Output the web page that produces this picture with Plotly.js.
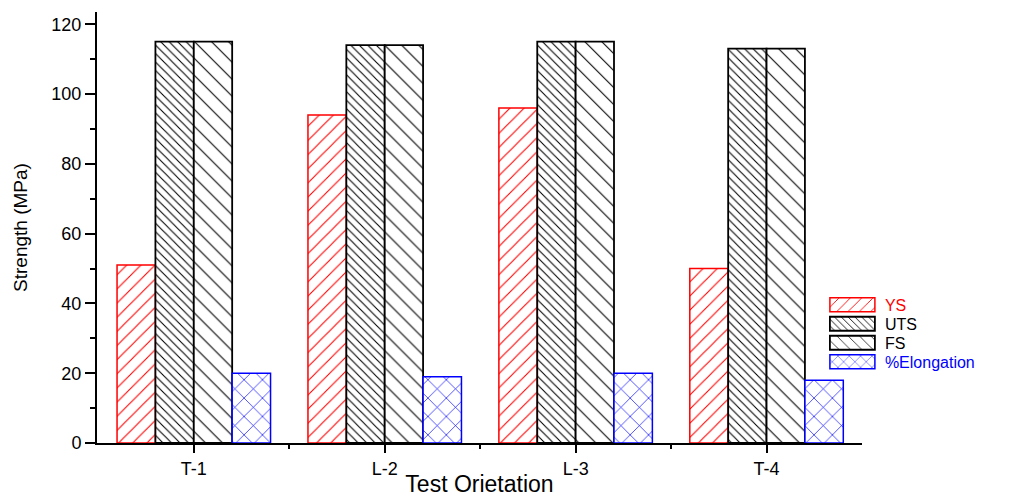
<!DOCTYPE html>
<html><head><meta charset="utf-8">
<script src="https://cdn.plot.ly/plotly-3.0.1.min.js"></script>
<style>html,body{margin:0;padding:0;background:#fff}#c{width:1009px;height:497px}</style>
</head><body><div id="c"></div>
<script>
const categories = ['T-1', 'L-2', 'L-3', 'T-4'];
const ys = [51, 94, 96, 50];
const uts = [115, 114, 115, 113];
const fs = [115, 114, 115, 113];
const elong = [20, 19, 20, 18];
const xpos = categories.map((c, i) => i);

function bar(name, vals, color, shape, size, sol, lw) {
  return {
    type: 'bar', x: xpos, y: vals, name: name,
    marker: {color: '#fff', line: {color: color, width: lw},
      pattern: {shape: shape, fgcolor: color, bgcolor: '#fff', size: size, solidity: sol, fillmode: 'replace'}},
    hoverinfo: 'skip'
  };
}
const data = [
  bar('<span style="color:#ff0000">YS</span>', ys, '#ff0000', '/', 10, 0.11, 1.5),
  bar('UTS', uts, '#000000', '\\', 6, 0.18, 1.8),
  bar('FS', fs, '#000000', '\\', 12, 0.09, 1.8),
  bar('<span style="color:#0000ff">%Elongation</span>', elong, '#0000ff', 'x', 13, 0.1, 1.5)
];
const layout = {
  width: 1009, height: 497,
  margin: {l: 97, r: 147, t: 12, b: 54},
  barmode: 'group', bargap: 0.196, bargroupgap: 0,
  paper_bgcolor: '#fff', plot_bgcolor: '#fff',
  font: {family: 'Liberation Sans, Arial, sans-serif', color: '#000'},
  showlegend: true,
  legend: {x: 0.9515, xanchor: 'left', y: 0.36, yanchor: 'top', bgcolor: 'rgba(0,0,0,0)',
    font: {size: 16}, tracegroupgap: 0, itemwidth: 50, traceorder: 'normal'},
  xaxis: {
    range: [-0.507, 3.5], tickmode: 'array', tickvals: xpos, ticktext: categories,
    showline: true, linecolor: '#000', linewidth: 2, showgrid: false, zeroline: false,
    ticks: 'outside', ticklen: 8, tickwidth: 2, tickcolor: '#000',
    tickfont: {size: 18},
    minor: {tickmode: 'array', tickvals: [0.5, 1.5, 2.5], ticks: 'outside', ticklen: 4, tickwidth: 2, tickcolor: '#000'},
    title: {text: 'Test Orietation', font: {size: 23}, standoff: 3}
  },
  yaxis: {
    range: [0, 123.5], dtick: 20, tick0: 0,
    showline: true, linecolor: '#000', linewidth: 2, showgrid: false, zeroline: false,
    ticks: 'outside', ticklen: 10, tickwidth: 2, tickcolor: '#000',
    tickfont: {size: 18},
    minor: {dtick: 10, ticks: 'outside', ticklen: 5, tickwidth: 2, tickcolor: '#000'},
    title: {text: 'Strength (MPa)', font: {size: 19}, standoff: 19}
  }
};
Plotly.newPlot('c', data, layout, {displayModeBar: false, staticPlot: true}).then(function (gd) {
  gd.querySelectorAll('.legend .legendpoints path').forEach(function (p) {
    p.setAttribute('d', 'M-25,7H20V-7H-25Z');
  });
  const items = gd.querySelectorAll('.legend .traces');
  let y0 = null;
  items.forEach(function (g, i) {
    const m = /translate\(([-\d.]+)[ ,]+([-\d.]+)\)/.exec(g.getAttribute('transform') || '');
    if (!m) return;
    if (y0 === null) y0 = parseFloat(m[2]);
    g.setAttribute('transform', 'translate(' + m[1] + ',' + (y0 + i * 19) + ')');
  });
});
</script></body></html>
